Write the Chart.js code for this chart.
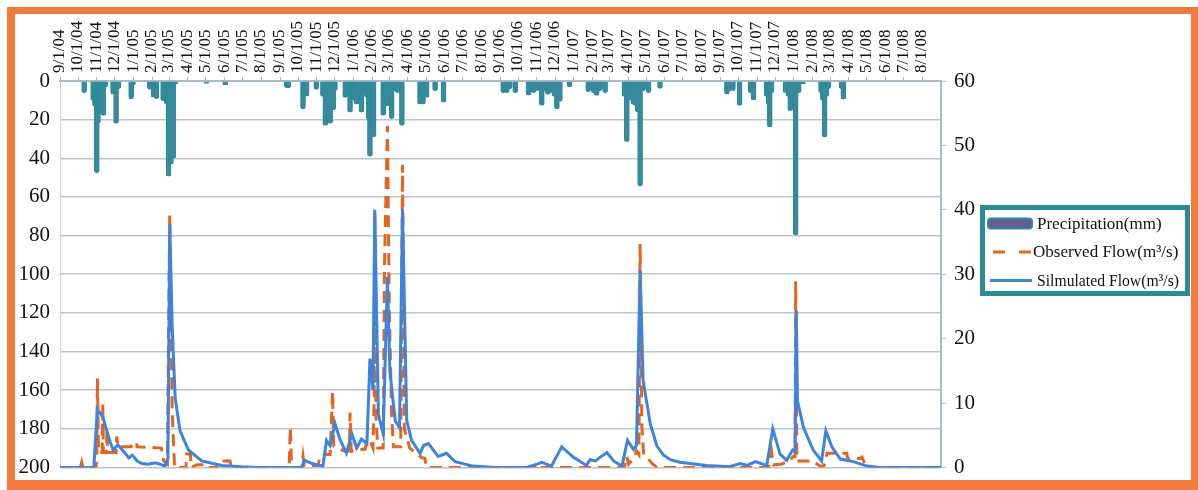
<!DOCTYPE html>
<html lang="en">
<head>
    <meta charset="UTF-8">
    <title>Precipitation and Flow</title>
    <script src="https://cdn.jsdelivr.net/npm/chart.js"></script>
    <style>
        body { margin: 0; background: #fff; }
        #frame {
            position: absolute; left: 7px; top: 7px;
            width: 1176px; height: 466px;
            border: solid #f07a3e; border-width: 7px 7px 10px 8px;
        }
        #flowChart { position: absolute; left: 0; top: 0; }
    </style>
</head>
<body>
    <div id="frame"></div>
    <canvas id="flowChart" width="1198" height="490"></canvas>

    <script>
        // month ticks along the top
        const monthLabels = ['9/1/04','10/1/04','11/1/04','12/1/04','1/1/05','2/1/05','3/1/05','4/1/05','5/1/05','6/1/05','7/1/05','8/1/05',
            '9/1/05','10/1/05','11/1/05','12/1/05','1/1/06','2/1/06','3/1/06','4/1/06','5/1/06','6/1/06','7/1/06','8/1/06',
            '9/1/06','10/1/06','11/1/06','12/1/06','1/1/07','2/1/07','3/1/07','4/1/07','5/1/07','6/1/07','7/1/07','8/1/07',
            '9/1/07','10/1/07','11/1/07','12/1/07','1/1/08','2/1/08','3/1/08','4/1/08','5/1/08','6/1/08','7/1/08','8/1/08'];

        // all x values are days since 9/1/04
        const rainDay = [40,55,58,61,63,66,69,72,75, 88,90,93,97, 118,121, 149,152,155,158,160,
            171,174,177,180,182,184,188,191, 243,274, 376,379,
            403,406,409,425, 436,440,443,448,453,456,
            473,477,481,484,486,489,492,496,500,504,509,512,514,517,520,
            536,539,542,546,550,556,560,567, 597,600,602,605,608,622,636, 735,
            741,746,755, 777,781,785,791,799,805,809,815,820,824,829,845,
            876,880,885,890,895,900,904,
            936,940,944,948,951,954,958,962,967,971,976,995,
            1106,1110,1116,1127, 1145,1150, 1172,1175,1177,1180,
            1203,1208,1211,1214,1220,1225,1232, 1262,1265,1268,1271,1274, 1296,1299];
        const rainMm = [6,10,13,47.5,22,17,10,17.8,3, 6.8,4,22,4, 9.3,2, 4.3,3,8.4,5,9.2,
            10.2,6,12,49.2,25,43,40,1.7, 1.2,2, 3.5,3.5,
            14.4,6,7.8,4.3, 8,23,10,22,15,5,
            8.5,5,16.1,7,10,6,12,8,16.1,6,8.5,20,39,25,29,
            17.8,8,13,7,19.5,5,6,23, 12,9,12,7,8.5,5,11, 6,
            6,4,6, 7.3,4,6,5,12.7,5,7,6,8,14.4,10.6,3,
            5.5,4,6,7.4,5,4,6,
            8,31.4,10,9,12,12.7,16,54.3,5,4,6,3.9,
            6.8,5,5,12.7, 6,9.8, 8,12,23.8,6,
            6,8,15.3,10,79.7,6,1.5, 6,10,28.9,8,4, 4,9.4];

        const obsDay = [0,34,36,38,60,61,62,64,70,71,72,77,78,79,93,94,96,118,119,127,128,168,172,178,182,186,190,
            209,210,216,218,227,240,242,260,262,282,284,380,382,384,401,403,405,428,431,440,448,452,454,470,480,481,483,
            495,506,509,514,519,521,522,524,527,536,538,543,546,550,553,565,568,571,580,600,605,608,
            789,791,795,936,940,943,952,956,960,962,965,968,973,983,990,
            1175,1180,1183,1196,1210,1216,1219,1220,1222,1249,1260,1267,1272,1305,1306,1327,1330,1337,1461];
        const obsFlow = [0,0,0.8,0,0,2.3,13.8,2.3,2.3,10,2.3,2.3,6,2.3,2.3,4.8,3.2,3.2,3.8,3.8,3.2,3.0,1.0,0.5,39.1,8.7,0,
            0,2.1,2.1,0,0.4,0.4,0,0,1.0,1.0,0,0,6.2,0,0,1.7,0.3,0.3,1.8,2.0,2.0,11.8,3.3,2.6,2.6,8.5,2.5,
            2.8,2.8,4.2,4.2,3.0,10.6,39.5,8,3.0,3.0,31,53,25,8,3.2,3.2,47,6,3,1.5,1.4,0,
            0,0.4,0,0,1.7,0.5,1.5,2.6,2.0,34.7,6.3,2.0,1.6,0.5,0,
            0,2.4,0.4,0.5,1.0,1.7,1.7,28.9,1.0,1.0,0.2,0.2,2.2,2.2,1.4,1.4,1.6,0,0];

        const simDay = [0,56,62,71,83,88,96,108,114,120,128,136,146,158,166,174,179,182,186,191,199,213,235,268,300,330,
            400,406,418,436,442,448,456,464,475,484,492,500,509,514,519,522,528,536,543,547,556,563,568,575,583,597,
            603,611,627,641,655,685,720,774,791,799,815,832,851,873,879,888,896,907,918,932,941,951,956,962,967,979,
            990,1001,1012,1028,1072,1110,1128,1140,1153,1172,1182,1194,1205,1215,1219,1221,1223,1233,1249,1263,1270,
            1280,1294,1316,1338,1360,1461];
        const simFlow = [0,0,9.0,7.8,4.0,2.7,3.5,2.2,1.5,1.9,1.0,0.6,0.5,0.7,0.5,0.2,1.4,37.8,22,10.8,5.7,2.7,1.0,0.3,0.1,0,
            0,1.1,0.6,0.2,4.2,3.4,6.8,4.4,2.2,5.2,3.0,4.4,3.7,16.9,12,40,8.2,5.2,29.6,14.9,7.2,6.2,40.1,7.3,4.2,2.2,
            3.4,3.7,1.7,2.2,0.9,0.2,0,0,0.5,0.8,0.2,3.2,1.6,0.3,1.2,1.0,1.6,2.3,1.0,0.2,4.2,2.8,3.4,30.6,13.5,6.7,
            3.3,1.9,1.2,0.8,0.3,0.1,0.6,0.3,0.9,0.3,6.0,2.1,1.1,2.7,2.5,24.3,10.3,6.2,2.7,1.0,5.7,
            3.2,1.3,0.9,0.2,0,0];

        const start = Date.UTC(2004, 8, 1);
        function dayOf(label) {
            const [m, d, y] = label.split('/').map(Number);
            return (Date.UTC(2000 + y, m - 1, d) - start) / 86400000;
        }
        const monthDays = monthLabels.map(dayOf);
        const lastDay = dayOf('9/1/08');

        const pts = (xs, ys) => xs.map((x, i) => ({ x: x, y: ys[i] }));

        const serif = 'Liberation Serif';
        const axisColor = '#a9bcc4';

        // legend drawn in a teal box to the right of the plot
        const legendBox = {
            id: 'legendBox',
            afterDraw(chart) {
                const ctx = chart.ctx;
                const left = 982.5, top = 207.5;
                ctx.save();
                ctx.lineWidth = 5;
                ctx.strokeStyle = '#2b8b95';
                ctx.strokeRect(left, top, 205, 86);
                ctx.font = '17px "' + serif + '"';
                ctx.textBaseline = 'middle';
                chart.data.datasets.forEach((ds, i) => {
                    const y = top + 16 + i * 28.5;
                    if (ds.type === 'bar') {
                        ctx.beginPath();
                        ctx.roundRect(988, y - 5, 44, 10, 3);
                        ctx.fillStyle = '#655c92';
                        ctx.fill();
                        ctx.lineWidth = 2;
                        ctx.strokeStyle = ds.borderColor;
                        ctx.stroke();
                    } else {
                        ctx.lineWidth = 3;
                        ctx.strokeStyle = ds.borderColor;
                        ctx.setLineDash(ds.borderDash ? [12, 14] : []);
                        ctx.beginPath();
                        ctx.moveTo(ds.borderDash ? 993 : 990, y);
                        ctx.lineTo(1032, y);
                        ctx.stroke();
                        ctx.setLineDash([]);
                    }
                    const tx = ds.borderDash ? 1033 : 1037;
                    ctx.fillStyle = '#111';
                    ctx.fillText(ds.label, tx, y + 1, 1179 - tx);
                });
                ctx.restore();
            }
        };

        const ctx = document.getElementById('flowChart').getContext('2d');
        new Chart(ctx, {
            type: 'bar',
            data: {
                datasets: [{
                    type: 'bar',
                    label: 'Precipitation(mm)',
                    data: pts(rainDay, rainMm),
                    yAxisID: 'y',
                    backgroundColor: '#3f86a0',
                    borderColor: '#2c8d98',
                    borderWidth: 1.5,
                    borderRadius: 3,
                    barThickness: 5,
                    order: 2
                }, {
                    type: 'line',
                    label: 'Observed Flow(m³/s)',
                    data: pts(obsDay, obsFlow),
                    yAxisID: 'y1',
                    borderColor: '#e2661f',
                    borderWidth: 3,
                    borderDash: [12, 7],
                    pointRadius: 0,
                    tension: 0,
                    order: 1
                }, {
                    type: 'line',
                    label: 'Silmulated Flow(m³/s)',
                    data: pts(simDay, simFlow),
                    yAxisID: 'y1',
                    borderColor: '#3e83dc',
                    borderWidth: 3,
                    pointRadius: 0,
                    tension: 0,
                    order: 0
                }]
            },
            options: {
                responsive: false,
                animation: false,
                layout: { padding: { top: 0, left: 0, right: 217, bottom: 16 } },
                plugins: { legend: { display: false }, tooltip: { enabled: false } },
                scales: {
                    x: {
                        type: 'linear',
                        position: 'top',
                        min: 0,
                        max: lastDay,
                        offset: false,
                        afterBuildTicks: s => { s.ticks = monthDays.map(v => ({ value: v })); },
                        afterFit: s => { s.height = 81; },
                        ticks: {
                            autoSkip: false,
                            minRotation: 90,
                            maxRotation: 90,
                            padding: 4,
                            labelOffset: 20,
                            color: '#111',
                            font: { family: serif, size: 17 },
                            callback: (v, i) => monthLabels[i]
                        },
                        grid: { offset: false, drawOnChartArea: false, tickLength: 4, color: axisColor },
                        border: { color: axisColor, width: 2 }
                    },
                    y: {
                        position: 'left',
                        reverse: true,
                        min: 0,
                        max: 200,
                        afterFit: s => { s.width = 60; },
                        ticks: { stepSize: 20, padding: 10, color: '#111', font: { family: serif, size: 21 } },
                        grid: { color: '#b9c6cb', lineWidth: 1.5, drawTicks: false },
                        border: { color: '#c8d3d6' }
                    },
                    y1: {
                        position: 'right',
                        min: 0,
                        max: 60,
                        afterFit: s => { s.width = 40; },
                        ticks: { stepSize: 10, padding: 8, color: '#111', font: { family: serif, size: 21 } },
                        grid: { drawOnChartArea: false, tickLength: 5, color: axisColor },
                        border: { color: axisColor, width: 2 }
                    }
                }
            },
            plugins: [legendBox]
        });
    </script>
</body>
</html>
